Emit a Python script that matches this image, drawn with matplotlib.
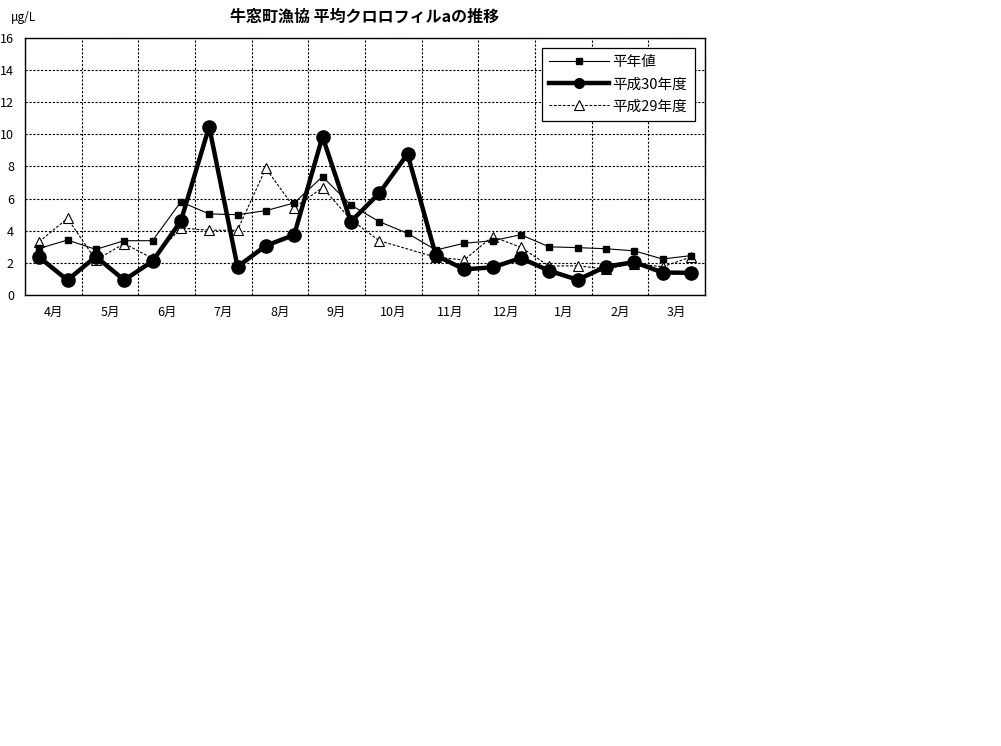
import numpy as np
import matplotlib
matplotlib.use("Agg")
import matplotlib.pyplot as plt
from matplotlib.lines import Line2D

plt.rcParams['font.family'] = ['Noto Sans CJK JP', 'DejaVu Sans']

# ── Datos ──────────────────────────────────────────────────────────────────
months = ["4月", "5月", "6月", "7月", "8月", "9月", "10月", "11月", "12月", "1月", "2月", "3月"]

heinen = [2.9, 3.42, 2.84, 3.38, 3.38, 5.8, 5.05, 5.0, 5.25, 5.73, 7.37, 5.6,
          4.57, 3.84, 2.8, 3.22, 3.38, 3.75, 3.0, 2.95, 2.88, 2.75, 2.24, 2.45]
h30 = [2.35, 0.93, 2.39, 0.93, 2.1, 4.6, 10.48, 1.76, 3.07, 3.74, 9.86, 4.57,
       6.33, 8.78, 2.47, 1.6, 1.72, 2.3, 1.51, 0.95, 1.76, 2.05, 1.4, 1.38]
h29 = [3.32, 4.77, 2.18, 3.2, 2.28, 4.17, 4.03, 4.03, 7.89, 5.44, 6.68, 4.7,
       3.38, np.nan, 2.35, 2.18, 3.64, 2.97, 1.8, 1.82, 1.62, 1.95, 1.76, 2.36]

# ── Figura ─────────────────────────────────────────────────────────────────
fig = plt.figure(figsize=(10.01, 7.46), dpi=100)
fig.patch.set_facecolor("white")
ax = fig.add_axes([25/1001, 1-295/746, 680/1001, 257/746])

x = np.arange(24) + 0.5
h29 = np.array(h29)
ok = ~np.isnan(h29)

ax.plot(x, heinen, color="black", lw=0.8, marker="s", ms=4.5, zorder=4)
ax.plot(x[ok], h29[ok], color="black", lw=0.8, ls=(0, (2.5, 1.5)), marker="^",
        ms=7, mfc="white", mec="black", mew=0.8, zorder=3)
ax.plot(x, h30, color="black", lw=3.2, marker="o", ms=9.5, zorder=5)

ax.set_xlim(0, 24)
ax.set_ylim(0, 16)
ax.set_yticks(np.arange(0, 17, 2))
ax.set_yticklabels([str(v) for v in range(0, 17, 2)], fontsize=9)

# Meses centrados, grilla en los límites de cada mes
ax.set_xticks(np.arange(0, 25, 2))
ax.set_xticklabels([])
ax.set_xticks(np.arange(12) * 2 + 1, minor=True)
ax.set_xticklabels(months, minor=True, fontsize=9)
ax.tick_params(axis="both", which="both", length=0)
ax.tick_params(axis="y", pad=8)
ax.tick_params(axis="x", which="minor", pad=8)

ax.grid(True, which="major", color="black", lw=0.8, ls=(0, (2, 1.5)))
ax.set_axisbelow(True)
for s in ax.spines.values():
    s.set_color("black")
    s.set_linewidth(1.0)

fig.text(365/1001, 1-17/746, "牛窓町漁協 平均クロロフィルaの推移", ha="center",
         va="center", fontsize=11.5, fontweight="bold")
fig.text(11/1001, 1-17/746, "μg/L", ha="left", va="center", fontsize=8.5,
         style="italic")

handles = [
    Line2D([], [], color="black", lw=0.8, marker="s", ms=4.5),
    Line2D([], [], color="black", lw=3.2, marker="o", ms=7),
    Line2D([], [], color="black", lw=0.8, ls=(0, (2.5, 1.5)), marker="^", ms=7,
           mfc="white", mew=0.8),
]
leg = ax.legend(handles, ["平年値", "平成30年度", "平成29年度"],
                loc="upper left", bbox_to_anchor=(517/680, 1-10/257),
                borderaxespad=0, fontsize=10.5, frameon=True, fancybox=False,
                framealpha=1, edgecolor="black", handlelength=4.1,
                handletextpad=0.25, labelspacing=0.55, borderpad=0.5)
leg.get_frame().set_linewidth(0.9)

plt.savefig("out.png", dpi=100, facecolor="white")
